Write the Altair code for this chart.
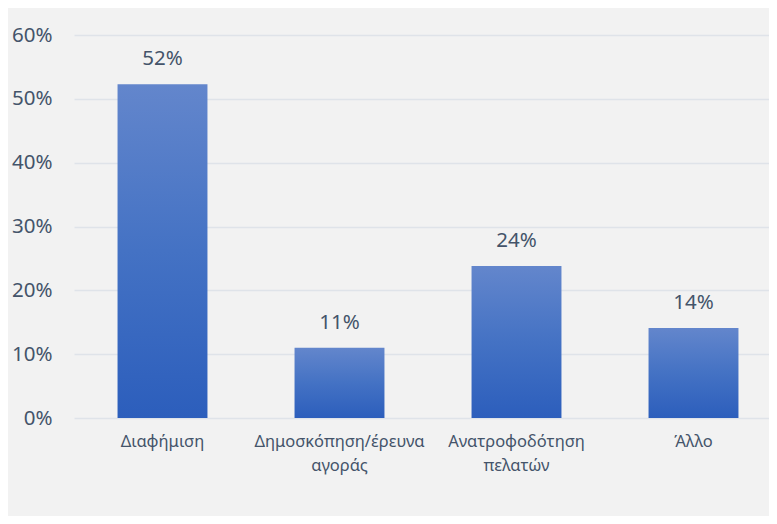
import altair as alt
import pandas as pd

categories = ["Διαφήμιση", "Δημοσκόπηση/έρευνα αγοράς", "Ανατροφοδότηση πελατών", "Άλλο"]
values = [0.523, 0.11, 0.238, 0.141]

df = pd.DataFrame({"cat": categories, "val": values})

TEXT = "#44546a"
FONT = "Noto Sans"

x = alt.X(
    "cat:N",
    sort=categories,
    title=None,
    scale=alt.Scale(range=[0, 708], paddingInner=0.492, paddingOuter=0.246),
    axis=alt.Axis(
        labelAngle=0,
        labelExpr="split(datum.label, ' ')",
        labelFontSize=16.5,
        labelColor=TEXT,
        labelFont=FONT,
        labelPadding=15,
        labelLineHeight=24,
        domain=False,
        ticks=False,
        grid=False,
    ),
)
y = alt.Y(
    "val:Q",
    title=None,
    scale=alt.Scale(domain=[0, 0.6], nice=False),
    axis=alt.Axis(
        format=".0%",
        values=[0, 0.1, 0.2, 0.3, 0.4, 0.5, 0.6],
        labelFontSize=20.5,
        labelColor=TEXT,
        labelFont=FONT,
        labelPadding=22,
        domain=False,
        ticks=False,
        grid=True,
        gridColor="#dfe3e9",
        gridWidth=1.5,
    ),
)

bars = alt.Chart(df).mark_bar(
    color=alt.Gradient(
        gradient="linear",
        stops=[
            alt.GradientStop(color="#6386cc", offset=0),
            alt.GradientStop(color="#4472c4", offset=0.5),
            alt.GradientStop(color="#2c5ebc", offset=1),
        ],
        x1=0, x2=0, y1=0, y2=1,
    )
).encode(x=x, y=y)

labels = alt.Chart(df).mark_text(
    dy=-25, fontSize=20.5, color=TEXT, font=FONT, baseline="middle"
).encode(x=x, y=y, text=alt.Text("val:Q", format=".0%"))

chart = (
    alt.layer(bars, labels)
    .properties(
        width=695,
        height=383,
        background="#f2f2f2",
        padding={"left": 66, "top": 27, "right": 0, "bottom": 98},
        autosize=alt.AutoSizeParams(type="none"),
    )
    .configure_view(stroke=None)
)

chart.save("out.html", embed_options={"renderer": "svg", "actions": False})
